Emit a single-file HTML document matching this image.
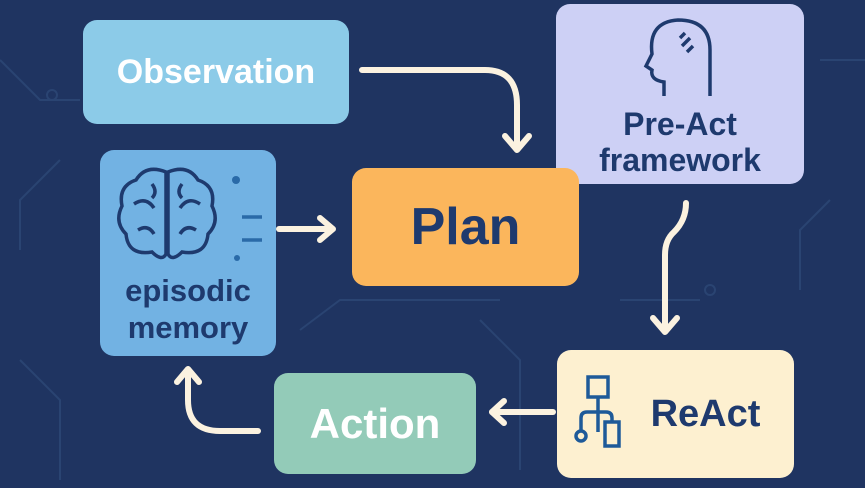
<!DOCTYPE html>
<html><head><style>
body{margin:0;width:865px;height:488px;overflow:hidden;background:#1f3461;font-family:"Liberation Sans",sans-serif;}
.b{position:absolute;border-radius:14px;display:flex;align-items:center;justify-content:center;font-weight:bold;text-align:center;}
</style></head><body>
<svg width="865" height="488" style="position:absolute;left:0;top:0">
<g stroke="#2a4472" stroke-width="2" fill="none">
<path d="M0 60 L40 100 L80 100"/><path d="M20 250 L20 200 L60 160"/><path d="M60 480 L60 400 L20 360"/>
<path d="M820 60 L865 60"/><path d="M830 200 L800 230 L800 290"/><path d="M300 330 L340 300 L500 300"/>
<path d="M480 320 L520 360 L520 470"/><path d="M620 300 L700 300"/><circle cx="52" cy="95" r="5"/><circle cx="710" cy="290" r="5"/>
</g>
<g stroke="#fbf2e0" stroke-width="6" fill="none" stroke-linecap="round" stroke-linejoin="round">
<path d="M362 70 L485 70 Q517 70 517 105 L517 148"/><path d="M505 136 L517 150 L529 136"/>
<path d="M279 229 L332 229"/><path d="M320 218 L333 229 L320 240"/>
<path d="M686 203 Q686 220 674 232 Q665 240 665 255 L665 330"/><path d="M653 318 L665 332 L677 318"/>
<path d="M553 412 L492 412"/><path d="M504 401 L492 412 L504 423"/>
<path d="M258 431 L220 431 Q188 431 188 400 L188 370"/><path d="M177 382 L188 369 L199 382"/>
</g>
</svg>
<div class="b" style="left:83px;top:20px;width:266px;height:104px;background:#8ccbe8;color:#fff;font-size:34px">Observation</div>
<div class="b" style="left:556px;top:4px;width:248px;height:180px;background:#cdd0f5;color:#1e3a6e;font-size:32px;line-height:36px;padding-top:96px;box-sizing:border-box">Pre-Act<br>framework</div>
<svg style="position:absolute;left:640px;top:14px" width="80" height="86" fill="none" stroke="#1e3a6e" stroke-width="3.5"><path d="M24 82 L24 68 Q10 66 12 56 L6 52 L12 40 Q8 8 38 6 Q70 6 70 36 L70 82"/><path d="M40 24 L45 19 M42 32 L50 24 M47 38 L53 32"/></svg>
<div class="b" style="left:100px;top:150px;width:176px;height:206px;background:#72b2e3;color:#1e3a6e;font-size:31px;line-height:37px;padding-top:112px;box-sizing:border-box">episodic<br>memory</div>
<svg style="position:absolute;left:112px;top:162px" width="155" height="105" fill="none" stroke="#1e3a6e" stroke-width="3.5"><path d="M54 10 Q34 2 24 18 Q6 24 10 44 Q2 60 14 72 Q16 94 40 90 Q50 100 54 92 Z"/><path d="M56 10 Q76 2 86 18 Q104 24 100 44 Q108 60 96 72 Q94 94 70 90 Q60 100 56 92 Z"/><path d="M22 42 Q34 34 42 46 M88 42 Q76 34 68 46 M26 68 Q36 62 42 72 M84 68 Q74 62 68 72 M40 22 Q46 30 40 36 M70 22 Q64 30 70 36"/><circle cx="124" cy="18" r="4" fill="#2a6aa8" stroke="none"/><path d="M130 55 L150 55 M130 78 L150 78" stroke="#2a6aa8"/><circle cx="125" cy="96" r="3" fill="#2a6aa8" stroke="none"/></svg>
<div class="b" style="left:352px;top:168px;width:227px;height:118px;background:#fbb65c;color:#1e3a6e;font-size:52px">Plan</div>
<div class="b" style="left:557px;top:350px;width:237px;height:128px;background:#fdf0d0;color:#1e3a6e;font-size:38px;padding-left:60px;box-sizing:border-box">ReAct</div>
<svg style="position:absolute;left:572px;top:372px" width="60" height="84" fill="none" stroke="#1e5a99" stroke-width="3.5"><rect x="16" y="5" width="20" height="20"/><path d="M26 25 L26 60 M9 58 L9 46 Q9 40 15 40 L34 40 Q40 40 40 46 L40 50"/><circle cx="9" cy="64" r="5"/><rect x="33" y="50" width="14" height="24"/></svg>
<div class="b" style="left:274px;top:373px;width:202px;height:101px;background:#93cbb8;color:#fff;font-size:42px">Action</div>
</body></html>
